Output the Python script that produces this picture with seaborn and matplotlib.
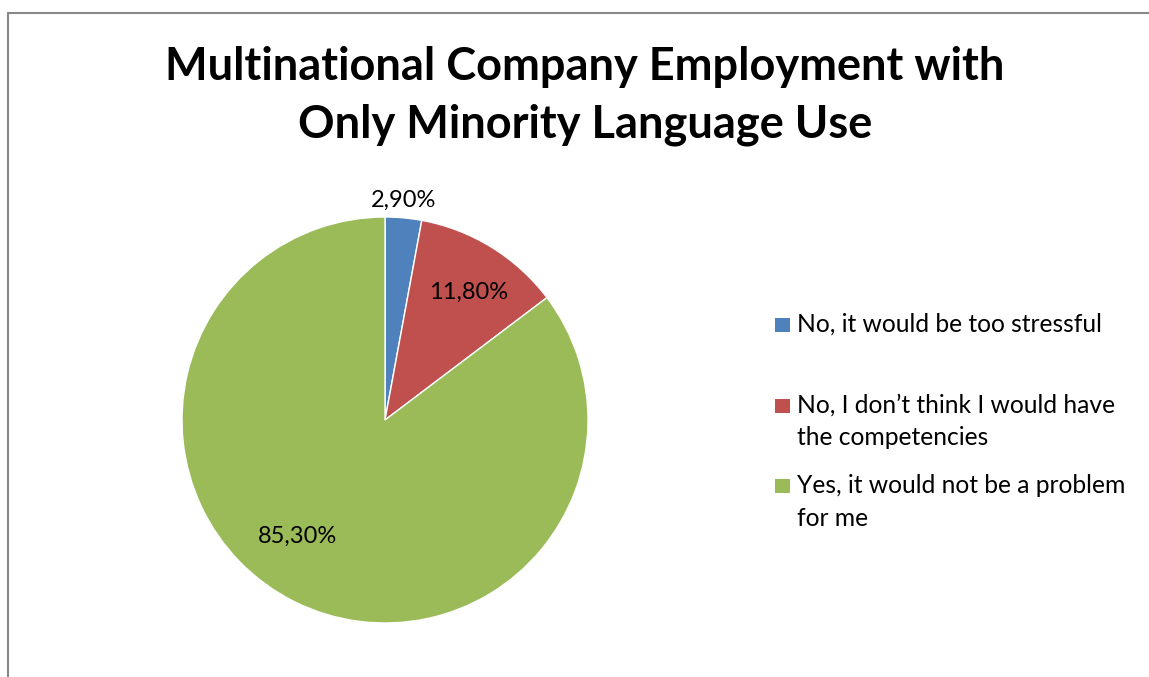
import numpy as np
import matplotlib
matplotlib.use("Agg")
import matplotlib.pyplot as plt
from matplotlib.patches import Rectangle
import seaborn as sns

title = "Multinational Company Employment with\nOnly Minority Language Use"
categories = [
    "No, it would be too stressful",
    "No, I don\u2019t think I would have\nthe competencies",
    "Yes, it would not be a problem\nfor me",
]
shares = [2.90, 11.80, 85.30]
value_labels = ["2,90%", "11,80%", "85,30%"]

sns.set_theme(style="white")
plt.rcParams["font.family"] = ["Lato", "DejaVu Sans"]

palette = sns.color_palette(["#4F81BD", "#C0504D", "#9BBB59"])

W, H = 1149, 677
fig = plt.figure(figsize=(W / 100, H / 100), dpi=100)
fig.patch.set_facecolor("white")


def fx(px):
    return px / W


def fy(py):
    return 1 - py / H


# chart-area frame (left and top edges)
fig.add_artist(plt.Line2D([fx(8), fx(8)], [0, fy(13)], transform=fig.transFigure,
                          color="#888888", lw=1.5))
fig.add_artist(plt.Line2D([fx(8), 1], [fy(13), fy(13)], transform=fig.transFigure,
                          color="#888888", lw=1.5))

fig.text(fx(585), fy(96), title, ha="center", va="center", fontsize=32.5,
         fontweight="bold", linespacing=1.47, color="black")

cx, cy, r = 385, 420, 203
ax = fig.add_axes([fx(cx - r), fy(cy + r), 2 * r / W, 2 * r / H])
wedges, _ = ax.pie(shares, colors=palette, startangle=90, counterclock=False,
                   radius=1.0, wedgeprops=dict(edgecolor="white", linewidth=1.0))
ax.set_xlim(-1, 1)
ax.set_ylim(-1, 1)
ax.set_aspect("equal")
ax.axis("off")

# label placement: (radius fraction, angle shift in degrees) per slice
label_place = [(1.085, 0.5), (0.75, -1.5), (0.72, -10.5)]
for w, txt, (rr, shift) in zip(wedges, value_labels, label_place):
    ang = np.deg2rad((w.theta1 + w.theta2) / 2 + shift)
    ax.text(rr * np.cos(ang), rr * np.sin(ang), txt, ha="center", va="center",
            fontsize=17, color="black", clip_on=False)

# legend: square key aligned with the first line of each entry
first_baseline, entry_step, line_step = 332, 80.5, 32.5
for i, (c, lab) in enumerate(zip(palette, categories)):
    base = first_baseline + i * entry_step
    fig.add_artist(Rectangle((fx(775), fy(base)), 15 / W, 14 / H,
                             transform=fig.transFigure, facecolor=c, edgecolor="none"))
    for j, line in enumerate(lab.split("\n")):
        fig.text(fx(797), fy(base + j * line_step), line, ha="left", va="baseline",
                 fontsize=17.7, color="black")

fig.savefig("out.png", dpi=100, facecolor="white")
